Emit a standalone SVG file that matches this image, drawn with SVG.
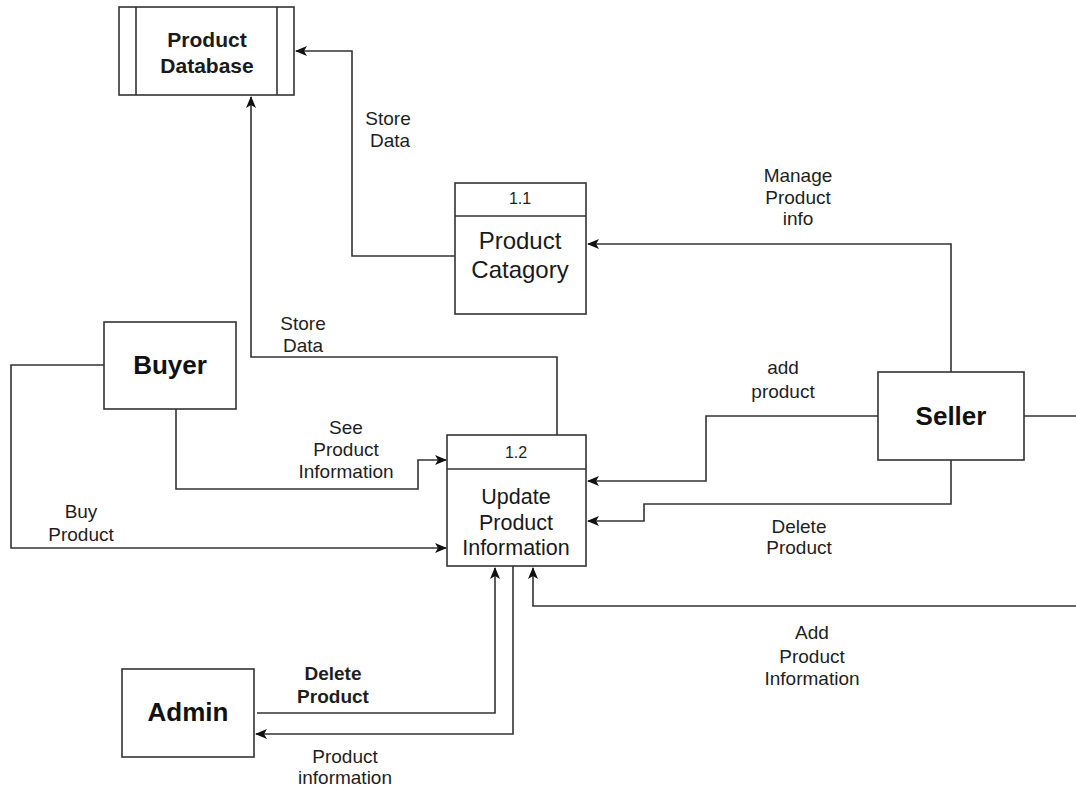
<svg xmlns="http://www.w3.org/2000/svg" width="1076" height="788" viewBox="0 0 1076 788">
  <style>
    .box { fill: #ffffff; stroke: #333333; stroke-width: 1.6; }
    .edge { fill: none; stroke: #333333; stroke-width: 1.6; }
    .lbl { font-family: "Liberation Sans", Arial, sans-serif; font-size: 19px; fill: #1e1e1e; text-anchor: middle; }
    .num { font-family: "Liberation Sans", Arial, sans-serif; font-size: 16px; fill: #1e1e1e; text-anchor: middle; }
    .bold { font-weight: bold; }
    .title { font-family: "Liberation Sans", Arial, sans-serif; font-size: 24px; fill: #1a1a1a; text-anchor: middle; }
    .ent { font-family: "Liberation Sans", Arial, sans-serif; font-size: 26px; font-weight: bold; fill: #111111; text-anchor: middle; }
  </style>
  <defs>
    <marker id="arrow" viewBox="0 0 12 10" refX="11" refY="5" markerWidth="12" markerHeight="10" markerUnits="userSpaceOnUse" orient="auto">
      <path d="M0,0 L12,5 L0,10 L3,5 Z" fill="#111111"/>
    </marker>
  </defs>
  <rect width="1076" height="788" fill="#ffffff"/>

  <!-- connectors -->
  <g id="connectors">
    <!-- 1.1 to database: Store Data -->
    <path class="edge" d="M455,256 H352 V51 H296" marker-end="url(#arrow)"/>
    <!-- 1.2 to database: Store Data -->
    <path class="edge" d="M557,435 V357 H251 V97" marker-end="url(#arrow)"/>
    <!-- Seller to 1.1: Manage Product info -->
    <path class="edge" d="M951,372 V244 H588" marker-end="url(#arrow)"/>
    <!-- Buyer to 1.2: See Product Information -->
    <path class="edge" d="M176,409 V489 H418 V460 H446" marker-end="url(#arrow)"/>
    <!-- Buyer to 1.2: Buy Product -->
    <path class="edge" d="M104,365 H11 V548 H446" marker-end="url(#arrow)"/>
    <!-- Seller to 1.2: add product -->
    <path class="edge" d="M878,416 H706 V481 H588" marker-end="url(#arrow)"/>
    <!-- Seller to 1.2: Delete Product -->
    <path class="edge" d="M951,460 V504 H644 V521 H588" marker-end="url(#arrow)"/>
    <!-- Seller off to the right -->
    <path class="edge" d="M1024,416 H1076"/>
    <!-- Add Product Information -->
    <path class="edge" d="M1076,606 H533 V568" marker-end="url(#arrow)"/>
    <!-- Admin to 1.2: Delete Product -->
    <path class="edge" d="M257,713 H495 V568" marker-end="url(#arrow)"/>
    <!-- 1.2 to Admin: Product information -->
    <path class="edge" d="M513,566 V734 H256" marker-end="url(#arrow)"/>
  </g>

  <!-- data store -->
  <g id="product-database">
    <rect class="box" x="119" y="7" width="175" height="88"/>
    <line class="edge" x1="136" y1="7" x2="136" y2="95"/>
    <line class="edge" x1="277" y1="7" x2="277" y2="95"/>
    <text class="title bold" x="207" y="47" style="font-size:21px">Product</text>
    <text class="title bold" x="207" y="73" style="font-size:21px">Database</text>
  </g>

  <!-- process 1.1 -->
  <g id="process-1-1">
    <rect class="box" x="455" y="183" width="131" height="131"/>
    <line class="edge" x1="455" y1="216" x2="586" y2="216"/>
    <text class="num" x="520" y="204">1.1</text>
    <text class="title" x="520" y="249">Product</text>
    <text class="title" x="520" y="278">Catagory</text>
  </g>

  <!-- process 1.2 -->
  <g id="process-1-2">
    <rect class="box" x="447" y="435" width="139" height="131"/>
    <line class="edge" x1="447" y1="469" x2="586" y2="469"/>
    <text class="num" x="516" y="458">1.2</text>
    <text class="title" x="516" y="504" style="font-size:21.5px">Update</text>
    <text class="title" x="516" y="530" style="font-size:21.5px">Product</text>
    <text class="title" x="516" y="555" style="font-size:21.5px">Information</text>
  </g>

  <!-- external entities -->
  <g id="buyer">
    <rect class="box" x="104" y="322" width="132" height="87"/>
    <text class="ent" x="170" y="374">Buyer</text>
  </g>
  <g id="seller">
    <rect class="box" x="878" y="372" width="146" height="88"/>
    <text class="ent" x="951" y="425">Seller</text>
  </g>
  <g id="admin">
    <rect class="box" x="122" y="669" width="132" height="88"/>
    <text class="ent" x="188" y="721">Admin</text>
  </g>

  <!-- flow labels -->
  <g id="labels">
    <text class="lbl" x="388" y="125">Store</text>
    <text class="lbl" x="390" y="147">Data</text>
    <text class="lbl" x="798" y="182">Manage</text>
    <text class="lbl" x="798" y="204">Product</text>
    <text class="lbl" x="798" y="225">info</text>
    <text class="lbl" x="303" y="330">Store</text>
    <text class="lbl" x="303" y="352">Data</text>
    <text class="lbl" x="346" y="434">See</text>
    <text class="lbl" x="346" y="456">Product</text>
    <text class="lbl" x="346" y="478">Information</text>
    <text class="lbl" x="81" y="518">Buy</text>
    <text class="lbl" x="81" y="541">Product</text>
    <text class="lbl" x="783" y="374">add</text>
    <text class="lbl" x="783" y="398">product</text>
    <text class="lbl" x="799" y="533">Delete</text>
    <text class="lbl" x="799" y="554">Product</text>
    <text class="lbl" x="812" y="639">Add</text>
    <text class="lbl" x="812" y="663">Product</text>
    <text class="lbl" x="812" y="685">Information</text>
    <text class="lbl bold" x="333" y="680">Delete</text>
    <text class="lbl bold" x="333" y="703">Product</text>
    <text class="lbl" x="345" y="763">Product</text>
    <text class="lbl" x="345" y="784">information</text>
  </g>
</svg>
